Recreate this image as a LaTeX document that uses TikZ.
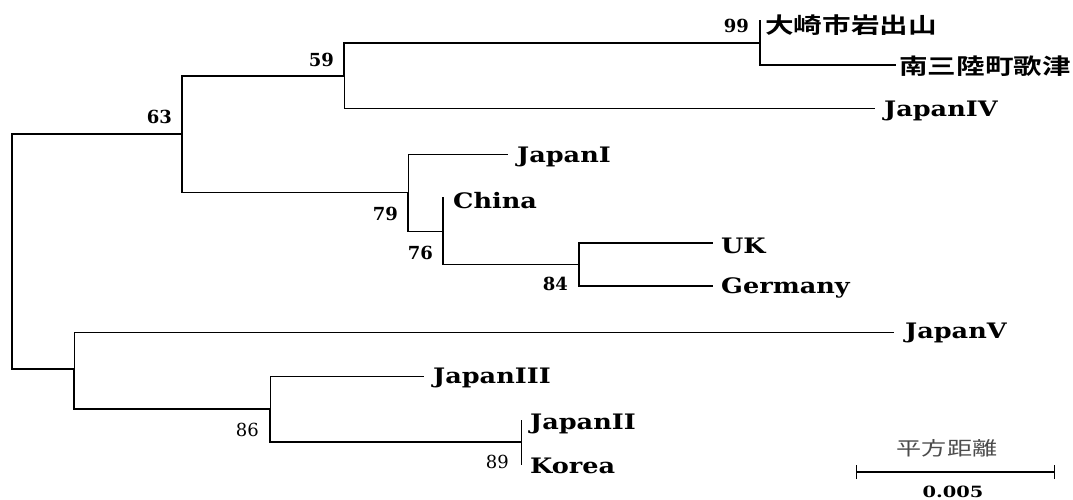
\documentclass[tikz,border=0pt]{standalone}
\usepackage{fontspec}
\setmainfont{DejaVu Serif}
\newfontfamily\leaffont[FakeStretch=1.2]{DejaVu Serif Bold}
\newfontfamily\scalefont[FakeStretch=1.25]{DejaVu Serif Bold}
\newfontfamily\cjkbold[FakeStretch=1.3]{Noto Sans CJK JP Bold}
\newfontfamily\cjkreg[FakeStretch=1.32]{Noto Sans CJK JP}
\begin{document}
\begin{tikzpicture}[x=1pt,y=-1pt,
  branch/.style={line width=1.4pt,line cap=rect},
  thin/.style={line width=1pt},
  leaf/.style={anchor=base west,inner sep=0pt,font=\leaffont\fontsize{21.3}{21.3}\selectfont},
  kanji/.style={anchor=base west,inner sep=0pt,font=\cjkbold\fontsize{22}{22}\selectfont},
  boot/.style={anchor=base east,inner sep=0pt,font=\bfseries\fontsize{18}{18}\selectfont},
  bootlight/.style={anchor=base east,inner sep=0pt,font=\fontsize{18}{18}\selectfont}]
\useasboundingbox (0,0) rectangle (1073,500);
\fill[white] (0,0) rectangle (1073,500);

% internal nodes of the tree
\coordinate (root) at (12,251.5);
\coordinate (n63) at (182,134);
\coordinate (n59) at (344,76);
\coordinate (n99) at (760,43);
\coordinate (n79) at (408,192.5);
\coordinate (n76) at (443,231.5);
\coordinate (n84) at (579,264.5);
\coordinate (n74) at (74,369);
\coordinate (n86) at (270,409);
\coordinate (n89) at (521,442);

% branch tips
\coordinate (tOsaki) at (760,21);
\coordinate (tMinami) at (895,65);
\coordinate (tJ4) at (874,109);
\coordinate (tJ1) at (507,154);
\coordinate (tChina) at (443,198);
\coordinate (tUK) at (712,243);
\coordinate (tGer) at (712,286);
\coordinate (tJ5) at (893,332);
\coordinate (tJ3) at (423,376);
\coordinate (tJ2) at (521,420);
\coordinate (tKor) at (521,464);

% branches
\draw[branch] (root) |- (n63);
\draw[branch] (root) |- (n74);
\draw[branch] (n63) |- (n59);
\draw[branch] (n63) |- (n79);
\draw[branch] (n59) |- (n99);
\draw[branch,thin] (n59) |- (tJ4);
\draw[branch] (n99) |- (tOsaki);
\draw[branch] (n99) |- (tMinami);
\draw[branch,thin] (n79) |- (tJ1);
\draw[branch] (n79) |- (n76);
\draw[branch] (n76) |- (tChina);
\draw[branch] (n76) |- (n84);
\draw[branch] (n84) |- (tUK);
\draw[branch] (n84) |- (tGer);
\draw[branch,thin] (n74) |- (tJ5);
\draw[branch] (n74) |- (n86);
\draw[branch,thin] (n86) |- (tJ3);
\draw[branch] (n86) |- (n89);
\draw[branch,thin] (n89) |- (tJ2);
\draw[branch,thin] (n89) |- (tKor);

% leaf labels
\node[kanji] (lOsaki) at (765,34) {大崎市岩出山};
\node[kanji] (lMinami) at (899,75) {南三陸町歌津};
\node[leaf] (lJ4) at (884,117) {JapanIV};
\node[leaf] (lJ1) at (517,162) {JapanI};
\node[leaf] (lChina) at (453,208) {China};
\node[leaf] (lUK) at (721,253) {UK};
\node[leaf] (lGer) at (721,293) {Germany};
\node[leaf] (lJ5) at (905,338) {JapanV};
\node[leaf] (lJ3) at (433,383) {JapanIII};
\node[leaf] (lJ2) at (530,429) {JapanII};
\node[leaf] (lKor) at (530,473) {Korea};

% bootstrap values
\node[boot] (b99) at (749,33) {99};
\node[boot] (b59) at (334,67) {59};
\node[boot] (b63) at (172,124) {63};
\node[boot] (b79) at (398,220) {79};
\node[boot] (b76) at (433,259) {76};
\node[boot] (b84) at (568,290) {84};
\node[bootlight] (b86) at (259,436) {86};
\node[bootlight] (b89) at (509,468) {89};

% scale bar
\coordinate (sL) at (856,472);
\coordinate (sR) at (1054,472);
\draw[line width=1.4pt] (sL) -- (sR);
\draw[line width=1pt] ([yshift=-7pt]sL) -- ([yshift=7pt]sL);
\draw[line width=1pt] ([yshift=-7pt]sR) -- ([yshift=7pt]sR);
\node[font=\cjkreg\fontsize{19}{19}\selectfont,text=black!70,inner sep=0pt] (sTitle) at (947,448) {平方距離};
\node[font=\scalefont\fontsize{15.5}{15.5}\selectfont,inner sep=0pt,anchor=base] (sVal) at (953,497) {0.005};
\end{tikzpicture}
\end{document}
